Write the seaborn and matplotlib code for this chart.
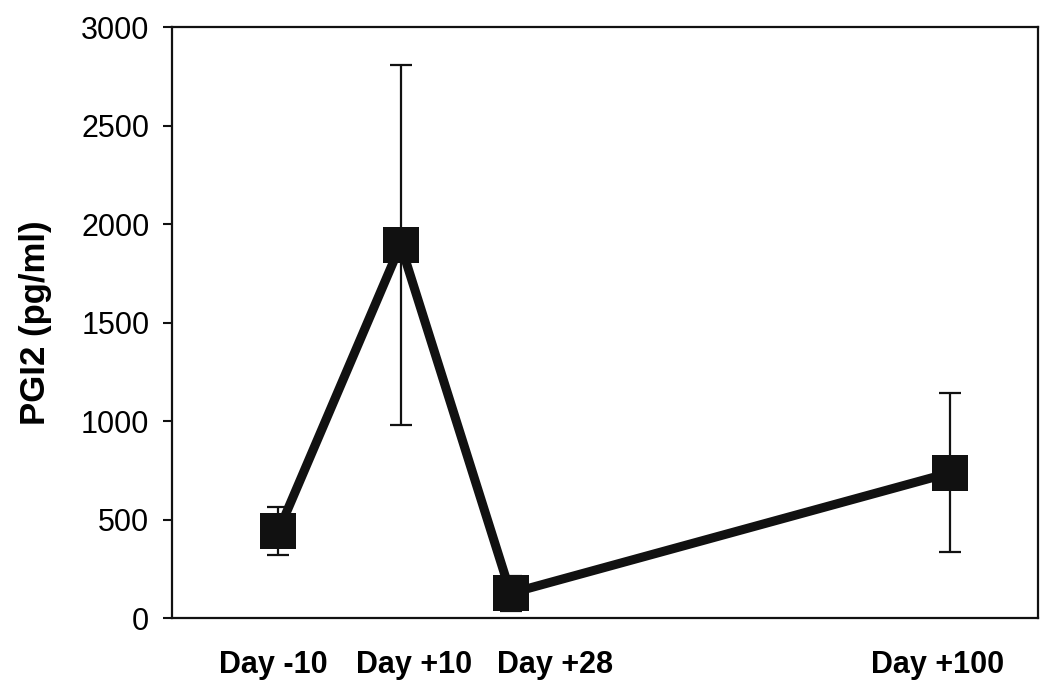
"""
PGI2 levels over time (mean +/- error), recreated with seaborn.
"""

import pandas as pd
import matplotlib
matplotlib.use("Agg")
import matplotlib.pyplot as plt
import seaborn as sns

# ── Data ──────────────────────────────────────────────────────────────────
days = [-10, 10, 28, 100]
day_labels = ["Day -10", "Day +10", "Day +28", "Day +100"]
pgi2_mean = [442, 1895, 126, 738]
pgi2_err = [122, 915, 90, 405]

# label anchors along the x axis (the original labels sit a bit off the points)
label_pos = [-10.8, 12.2, 35.3, 97.9]

df = pd.DataFrame({"day": days, "pgi2": pgi2_mean, "err": pgi2_err})

# ── Style ─────────────────────────────────────────────────────────────────
sns.set_style("ticks")
plt.rcParams["font.family"] = ["Liberation Sans", "DejaVu Sans"]
ink = "#111111"
plt.rcParams.update({
    "text.color": "black",
    "axes.labelcolor": "black",
    "xtick.color": "black",
    "ytick.color": "black",
})

fig = plt.figure(figsize=(10.5, 6.96), dpi=100)
ax = fig.add_axes([0.164, 0.112, 0.825, 0.849])

# error bars first, then the thick line with square markers on top
ax.errorbar(df["day"], df["pgi2"], yerr=df["err"], fmt="none",
            ecolor=ink, elinewidth=1.6, capsize=8, capthick=1.6, zorder=2)
sns.lineplot(data=df, x="day", y="pgi2", ax=ax, color=ink,
             linewidth=6.5, marker="s", markersize=26,
             markeredgecolor=ink, markeredgewidth=0, zorder=3)

ax.set_xlim(-27.4, 114.4)
ax.set_ylim(0, 3000)
ax.set_yticks(range(0, 3001, 500))

ax.set_xticks(label_pos)
ax.set_xticklabels(day_labels, fontsize=22, fontweight="bold", color="black")
ax.tick_params(axis="x", length=0, pad=23)
ax.tick_params(axis="y", labelsize=22, length=6.5, width=1.5,
               direction="out", pad=10, color=ink, labelcolor="black")

for side in ["left", "right", "top", "bottom"]:
    ax.spines[side].set_visible(True)
    ax.spines[side].set_linewidth(1.6)
    ax.spines[side].set_color(ink)

ax.set_xlabel("")
ax.set_ylabel("PGI2 (pg/ml)", fontsize=25, fontweight="bold", color="black")
ax.yaxis.set_label_coords(-0.139, 0.5)

fig.savefig("out.png", dpi=100, facecolor="white")
